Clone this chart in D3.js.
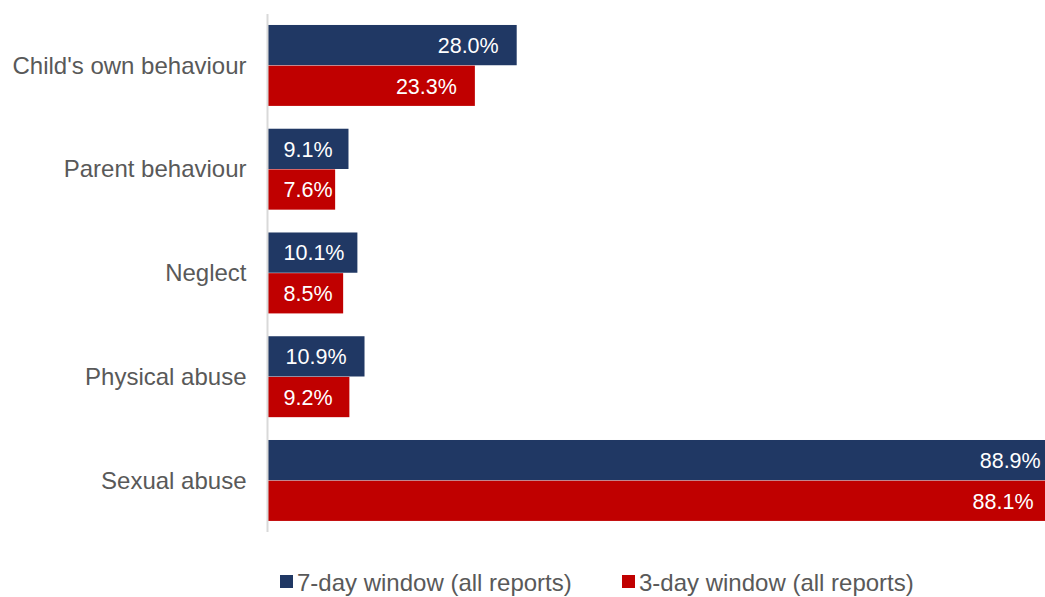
<!DOCTYPE html>
<html>
<head>
<meta charset="utf-8">
<script src="https://cdn.jsdelivr.net/npm/d3@7"></script>
<style>
  html, body { margin: 0; padding: 0; background: #fff; overflow: hidden; }
  svg { display: block; font-family: "Liberation Sans", Arial, sans-serif; }
</style>
</head>
<body>
<svg id="chart" width="1045" height="597"></svg>
<script>
// Reasons for referral, share of cases (%)
const categories = ["Child's own behaviour", "Parent behaviour", "Neglect", "Physical abuse", "Sexual abuse"];
const seriesNames = ["7-day window (all reports)", "3-day window (all reports)"];
const sevenDay = [28.0, 9.1, 10.1, 10.9, 88.9];
const threeDay = [23.3, 7.6, 8.5, 9.2, 88.1];
const seriesColors = ["#203864", "#C00000"];

const svg = d3.select("#chart");
const W = 1045, H = 597;
const axisX = 267.5;

// Value axis: 8.9 px per percentage point; the longest bars run off the right edge
const x = d3.scaleLinear().domain([0, 100]).range([axisX, axisX + 890]);
const y = d3.scaleBand().domain(categories).range([14.6, 531.3]).paddingInner(0.22).paddingOuter(0.1);
const ySub = d3.scaleBand().domain([0, 1]).range([0, y.bandwidth()]).paddingInner(0.01);

const clip = svg.append("defs").append("clipPath").attr("id", "plotClip");
clip.append("rect").attr("x", 0).attr("y", 0).attr("width", W).attr("height", H);

const rows = categories.map((c, i) => ({ cat: c, vals: [sevenDay[i], threeDay[i]] }));

const g = svg.append("g").attr("clip-path", "url(#plotClip)");
const groups = g.selectAll("g.cat").data(rows).join("g")
  .attr("class", "cat")
  .attr("transform", d => `translate(0,${y(d.cat)})`);

groups.selectAll("rect").data(d => d.vals.map((v, s) => ({ v, s }))).join("rect")
  .attr("x", x(0))
  .attr("y", d => ySub(d.s))
  .attr("width", d => x(d.v) - x(0))
  .attr("height", ySub.bandwidth())
  .attr("fill", d => seriesColors[d.s]);

// Value labels sit at the inside end, but never closer than 16px to the axis
groups.selectAll("text.val").data(d => d.vals.map((v, s) => ({ v, s }))).join("text")
  .attr("class", "val")
  .attr("y", d => ySub(d.s) + ySub.bandwidth() / 2)
  .attr("dy", "0.36em")
  .attr("text-anchor", "start")
  .attr("fill", "#fff")
  .style("font-size", "21.5px")
  .text(d => d.v.toFixed(1) + "%")
  .attr("x", function (d) {
    const w = this.getComputedTextLength();
    return Math.max(axisX + 16, x(d.v) - 18 - w);
  });

// Category axis
const yAxis = d3.axisLeft(y).tickSize(0).tickPadding(21);
const ax = svg.append("g").attr("transform", `translate(${axisX},0)`).call(yAxis);
ax.select(".domain").remove();
ax.selectAll("text").attr("fill", "#595959").style("font-size", "24px")
  .style("font-family", "'Liberation Sans', Arial, sans-serif").attr("dy", "0.34em");

svg.append("line")
  .attr("x1", axisX).attr("x2", axisX)
  .attr("y1", 14).attr("y2", 532)
  .attr("stroke", "#d9d9d9").attr("stroke-width", 2);

// Legend
const legendItems = [{ x: 280 }, { x: 622 }];
const lg = svg.append("g").selectAll("g").data(seriesNames).join("g")
  .attr("transform", (d, i) => `translate(${legendItems[i].x},575)`);
lg.append("rect").attr("width", 13).attr("height", 13)
  .attr("fill", (d, i) => seriesColors[i]);
lg.append("text").attr("x", 17).attr("y", 7).attr("dy", "0.36em")
  .attr("fill", "#595959").style("font-size", "24px")
  .text(d => d);
</script>
</body>
</html>
